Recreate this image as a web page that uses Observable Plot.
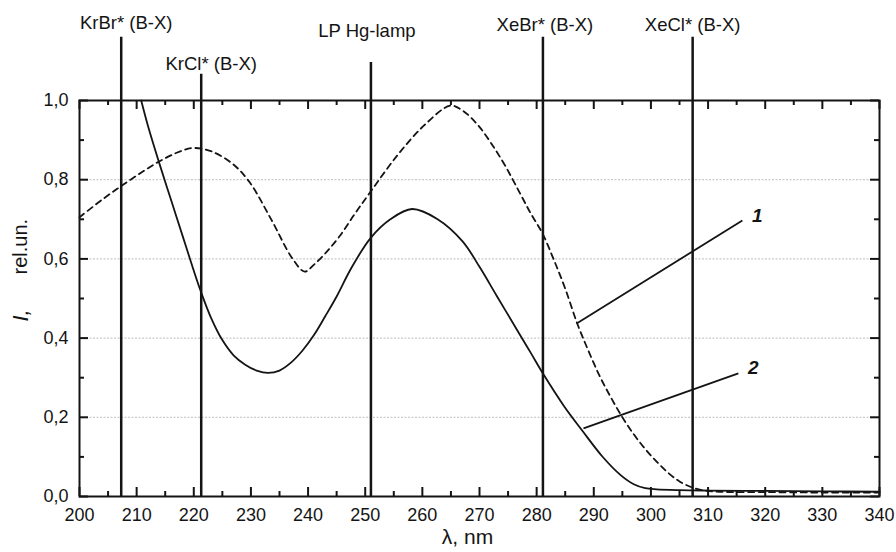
<!DOCTYPE html>
<html><head><meta charset="utf-8">
<script src="https://cdn.jsdelivr.net/npm/d3@7"></script>
<script src="https://cdn.jsdelivr.net/npm/@observablehq/plot@0.6"></script>
<style>
html,body{margin:0;padding:0;background:#fff;}
#chart svg{display:block;}
</style>
</head><body><div id="chart"></div>
<script>
// Curve 1 (dashed)
const curve1X = [200, 204, 207.3, 210.5, 213.7, 217, 219.8, 223, 226.8, 229.75, 233.5, 237.3, 239.4, 241, 243.2, 245.5, 248, 250.9, 255.6, 260.3, 264.9, 267, 269.6, 272, 274.5, 277, 279, 281, 283, 285, 287.1, 289, 291, 293, 295, 297, 299, 301, 303, 305, 307, 309, 312, 320, 330, 340];
const curve1Y = [0.705, 0.75, 0.784, 0.815, 0.844, 0.868, 0.880, 0.872, 0.840, 0.794, 0.701, 0.600, 0.568, 0.585, 0.617, 0.657, 0.71, 0.769, 0.861, 0.937, 0.987, 0.975, 0.94, 0.893, 0.835, 0.768, 0.714, 0.665, 0.598, 0.525, 0.437, 0.37, 0.305, 0.25, 0.2, 0.157, 0.12, 0.088, 0.06, 0.038, 0.024, 0.016, 0.012, 0.011, 0.01, 0.01];
// Curve 2 (solid)
const curve2X = [210.8, 212, 214, 216, 218, 220, 221.3, 223, 225, 227, 229, 231, 233, 235, 237, 239, 241, 243, 245, 247.5, 250.9, 254.4, 258.2, 262.6, 267, 270, 273, 276.6, 279, 281.3, 284.8, 288, 291.5, 294.7, 297, 299, 301, 305, 310, 320, 330, 340];
const curve2Y = [1.0, 0.935, 0.84, 0.75, 0.66, 0.57, 0.515, 0.452, 0.395, 0.356, 0.333, 0.318, 0.312, 0.318, 0.338, 0.368, 0.407, 0.455, 0.505, 0.575, 0.652, 0.7, 0.726, 0.701, 0.645, 0.58, 0.507, 0.42, 0.362, 0.306, 0.228, 0.166, 0.101, 0.054, 0.031, 0.021, 0.018, 0.016, 0.015, 0.014, 0.013, 0.012];

// Emission lines of the sources
const sourceNames = ["KrBr* (B-X)", "KrCl* (B-X)", "LP Hg-lamp", "XeBr* (B-X)", "XeCl* (B-X)"];
const sourceWl = [207.3, 221.3, 251.0, 281.1, 307.3];
const sourceTop = [1.16, 1.066, 1.096, 1.16, 1.16];

// Curve number labels and leader lines
const curveLabels = ["1", "2"];
const leaderX1 = [287.0, 288.2];
const leaderY1 = [0.437, 0.172];
const leaderX2 = [316.0, 315.3];
const leaderY2 = [0.697, 0.311];

// Ticks
const xTicks = [200, 210, 220, 230, 240, 250, 260, 270, 280, 290, 300, 310, 320, 330, 340];
const xMinor = [205, 215, 225, 235, 245, 255, 265, 275, 285, 295, 305, 315, 325, 335];
const yTicks = [0, 0.2, 0.4, 0.6, 0.8, 1.0];
const yMinor = [0.1, 0.3, 0.5, 0.7, 0.9];
const gridY = [0.2, 0.4, 0.6, 0.8];

const xTitle = "λ, nm";
const yTitleItalic = "I,";
const yTitle = "rel.un.";

// ---- layout ----
const W = 896, H = 552;
const mL = 79, mR = 17, mT = 100, mB = 56;
const pw = W - mL - mR, ph = H - mT - mB;
const xLo = 200, xHi = 340, yLo = 0, yHi = 1;
const ink = "#141414";
const font = "'Liberation Sans', Arial, Helvetica, sans-serif";
const labelDx = [5, 10, -4, 2, 0];
const labelDy = [-14, -10, -31, -12, -12];
// tick lengths (pixels) converted to data units
const majPx = 9, minPx = 5;
const tyMaj = majPx * (yHi - yLo) / ph, tyMin = minPx * (yHi - yLo) / ph;
const txMaj = majPx * (xHi - xLo) / pw, txMin = minPx * (xHi - xLo) / pw;

const c1 = curve1X.map((x, i) => ({x, y: curve1Y[i]}));
const c2 = curve2X.map((x, i) => ({x, y: curve2Y[i]}));
const sources = sourceNames.map((name, i) => ({name, wl: sourceWl[i], top: sourceTop[i]}));
const leaders = curveLabels.map((t, i) => ({t, x1: leaderX1[i], y1: leaderY1[i], x2: leaderX2[i], y2: leaderY2[i]}));

const fmt = d => d.toFixed(1).replace(".", ",");
const tickStyle = {stroke: ink, strokeWidth: 2};

const chart = Plot.plot({
  width: W, height: H,
  marginLeft: mL, marginRight: mR, marginTop: mT, marginBottom: mB,
  style: {fontFamily: font, fontSize: "18px", color: ink, background: "#fff", overflow: "visible"},
  x: {domain: [xLo, xHi], ticks: xTicks, tickSize: 0, tickPadding: 12, label: null},
  y: {domain: [yLo, yHi], ticks: yTicks, tickFormat: fmt, tickSize: 0, tickPadding: 11, label: null},
  marks: [
    Plot.ruleY(gridY, {y: d => d, stroke: "#bdbdbd", strokeWidth: 1, strokeDasharray: "2,1.5"}),
    Plot.ruleX(sources, {x: "wl", y1: 0, y2: "top", stroke: ink, strokeWidth: 2.5}),
    Plot.line(c1, {x: "x", y: "y", curve: "catmull-rom", stroke: ink, strokeWidth: 1.8, strokeDasharray: "6,4.5"}),
    Plot.line(c2, {x: "x", y: "y", curve: "catmull-rom", stroke: ink, strokeWidth: 1.8}),
    Plot.link(leaders, {x1: "x1", y1: "y1", x2: "x2", y2: "y2", stroke: ink, strokeWidth: 1.8}),
    Plot.frame({stroke: ink, strokeWidth: 2}),
    // inward ticks: bottom / top
    Plot.ruleX(xTicks, {x: d => d, y1: yLo, y2: yLo + tyMaj, ...tickStyle}),
    Plot.ruleX(xMinor, {x: d => d, y1: yLo, y2: yLo + tyMin, ...tickStyle}),
    Plot.ruleX(xTicks, {x: d => d, y1: yHi, y2: yHi - tyMaj, ...tickStyle}),
    Plot.ruleX(xMinor, {x: d => d, y1: yHi, y2: yHi - tyMin, ...tickStyle}),
    // inward ticks: left / right
    Plot.ruleY(yTicks, {y: d => d, x1: xLo, x2: xLo + txMaj, ...tickStyle}),
    Plot.ruleY(yMinor, {y: d => d, x1: xLo, x2: xLo + txMin, ...tickStyle}),
    Plot.ruleY(yTicks, {y: d => d, x1: xHi, x2: xHi - txMaj, ...tickStyle}),
    Plot.ruleY(yMinor, {y: d => d, x1: xHi, x2: xHi - txMin, ...tickStyle}),
    // source labels
    ...sources.map((s, i) => Plot.text([s], {x: "wl", y: "top", text: "name", dx: labelDx[i], dy: labelDy[i], fontSize: 18.5, fill: ink})),
    // curve labels
    Plot.text(leaders, {x: "x2", y: "y2", text: "t", dx: 15, dy: -5, fontSize: 19, fontWeight: "bold", fontStyle: "italic", fill: ink}),
    // axis titles
    Plot.text([xTitle], {frameAnchor: "bottom", text: d => d, dx: -12, dy: 47, fontSize: 21, fill: ink}),
    Plot.text([yTitle], {frameAnchor: "left", text: d => d, rotate: -90, dx: -59, dy: -24, fontSize: 20, fill: ink}),
    Plot.text([yTitleItalic], {frameAnchor: "left", text: d => d, rotate: -90, dx: -59, dy: 23, fontSize: 22, fontStyle: "italic", fill: ink})
  ]
});
document.getElementById("chart").appendChild(chart);
</script>
</body></html>
